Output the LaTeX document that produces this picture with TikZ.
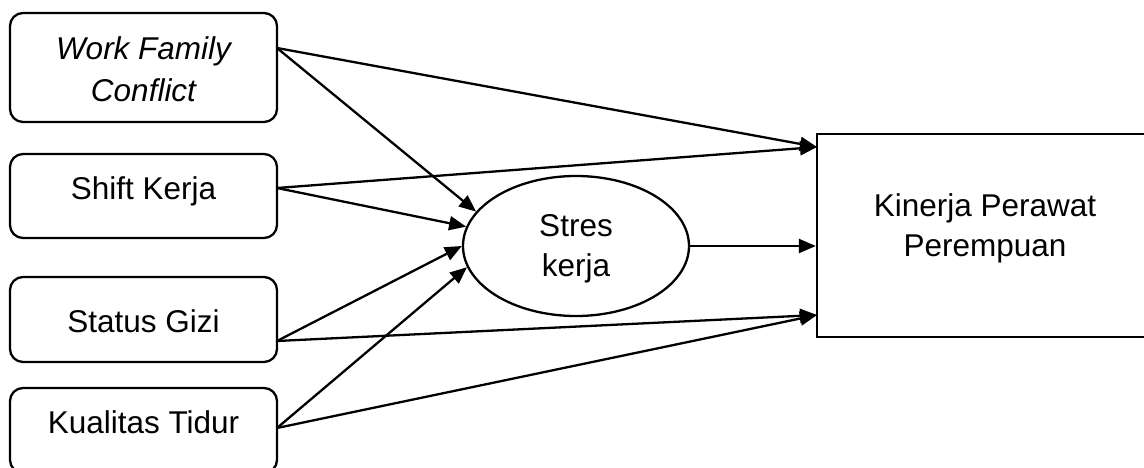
\documentclass[tikz,border=0pt]{standalone}
\usepackage{fontspec}
\setmainfont{Liberation Sans}
\usetikzlibrary{arrows.meta,shapes.geometric}
\tikzset{
  lbox/.style={draw=black,line width=2.3pt,rounded corners=13pt,minimum width=267pt,inner sep=0pt},
  kbox/.style={draw=black,line width=2.3pt,minimum width=336pt,minimum height=203pt,inner sep=0pt},
  ell/.style={draw=black,line width=2.3pt,ellipse,minimum width=226pt,minimum height=140pt,inner sep=0pt,align=center,font=\fontsize{31.5}{40}\selectfont},
  lbl/.style={inner sep=0pt,align=center,font=\fontsize{31.5}{40}\selectfont},
  conn/.style={line width=2.3pt,-{Triangle[length=17pt,width=14pt]}}
}
\begin{document}
\begin{tikzpicture}[x=1pt,y=-1pt]
\clip (0,0) rectangle (1144,468);
% left boxes
\node[lbox,minimum height=109pt] (wfc) at (143.5,67.5) {};
\node[lbl,font=\fontsize{31.5}{42}\selectfont] (wfcT) at (143.5,69) {\itshape Work Family\\\itshape Conflict};
\node[lbox,minimum height=84pt] (shift) at (143.5,196) {};
\node[lbl,anchor=base] (shiftT) at (143.5,200) {Shift Kerja};
\node[lbox,minimum height=85pt] (status) at (143.5,319.5) {};
\node[lbl,anchor=base] (statusT) at (143.5,332) {Status Gizi};
\node[lbox,minimum height=85pt] (kual) at (143.5,430.5) {};
\node[lbl,anchor=base] (kualT) at (143.5,433) {Kualitas Tidur};
% ellipse
\node[ell] (stres) at (576,246) {};
\node[lbl] (stresT) at (576,249) {Stres\\kerja};
% right box
\node[kbox] (kin) at (985,235.5) {};
\node[lbl] (kinT) at (985,228) {Kinerja Perawat\\Perempuan};
% connector end points
\coordinate (wfcO) at (277,48);
\coordinate (shiftO) at (277,188);
\coordinate (statusO) at (277,341);
\coordinate (kualO) at (277,428);
\coordinate (kinA) at (817,147);
\coordinate (kinC) at (817,315);
% connectors
\draw[conn] (wfcO) -- (kinA);
\draw[conn] (wfcO) -- (stres.161.4);
\draw[conn] (shiftO) -- (kinA);
\draw[conn] (shiftO) -- (stres.170.1);
\draw[conn] (stres.east) -- (stres.east -| kin.west);
\draw[conn] (statusO) -- (stres.180);
\draw[conn] (statusO) -- (kinC);
\draw[conn] (kualO) -- (stres.191.9);
\draw[conn] (kualO) -- (kinC);
\end{tikzpicture}
\end{document}
